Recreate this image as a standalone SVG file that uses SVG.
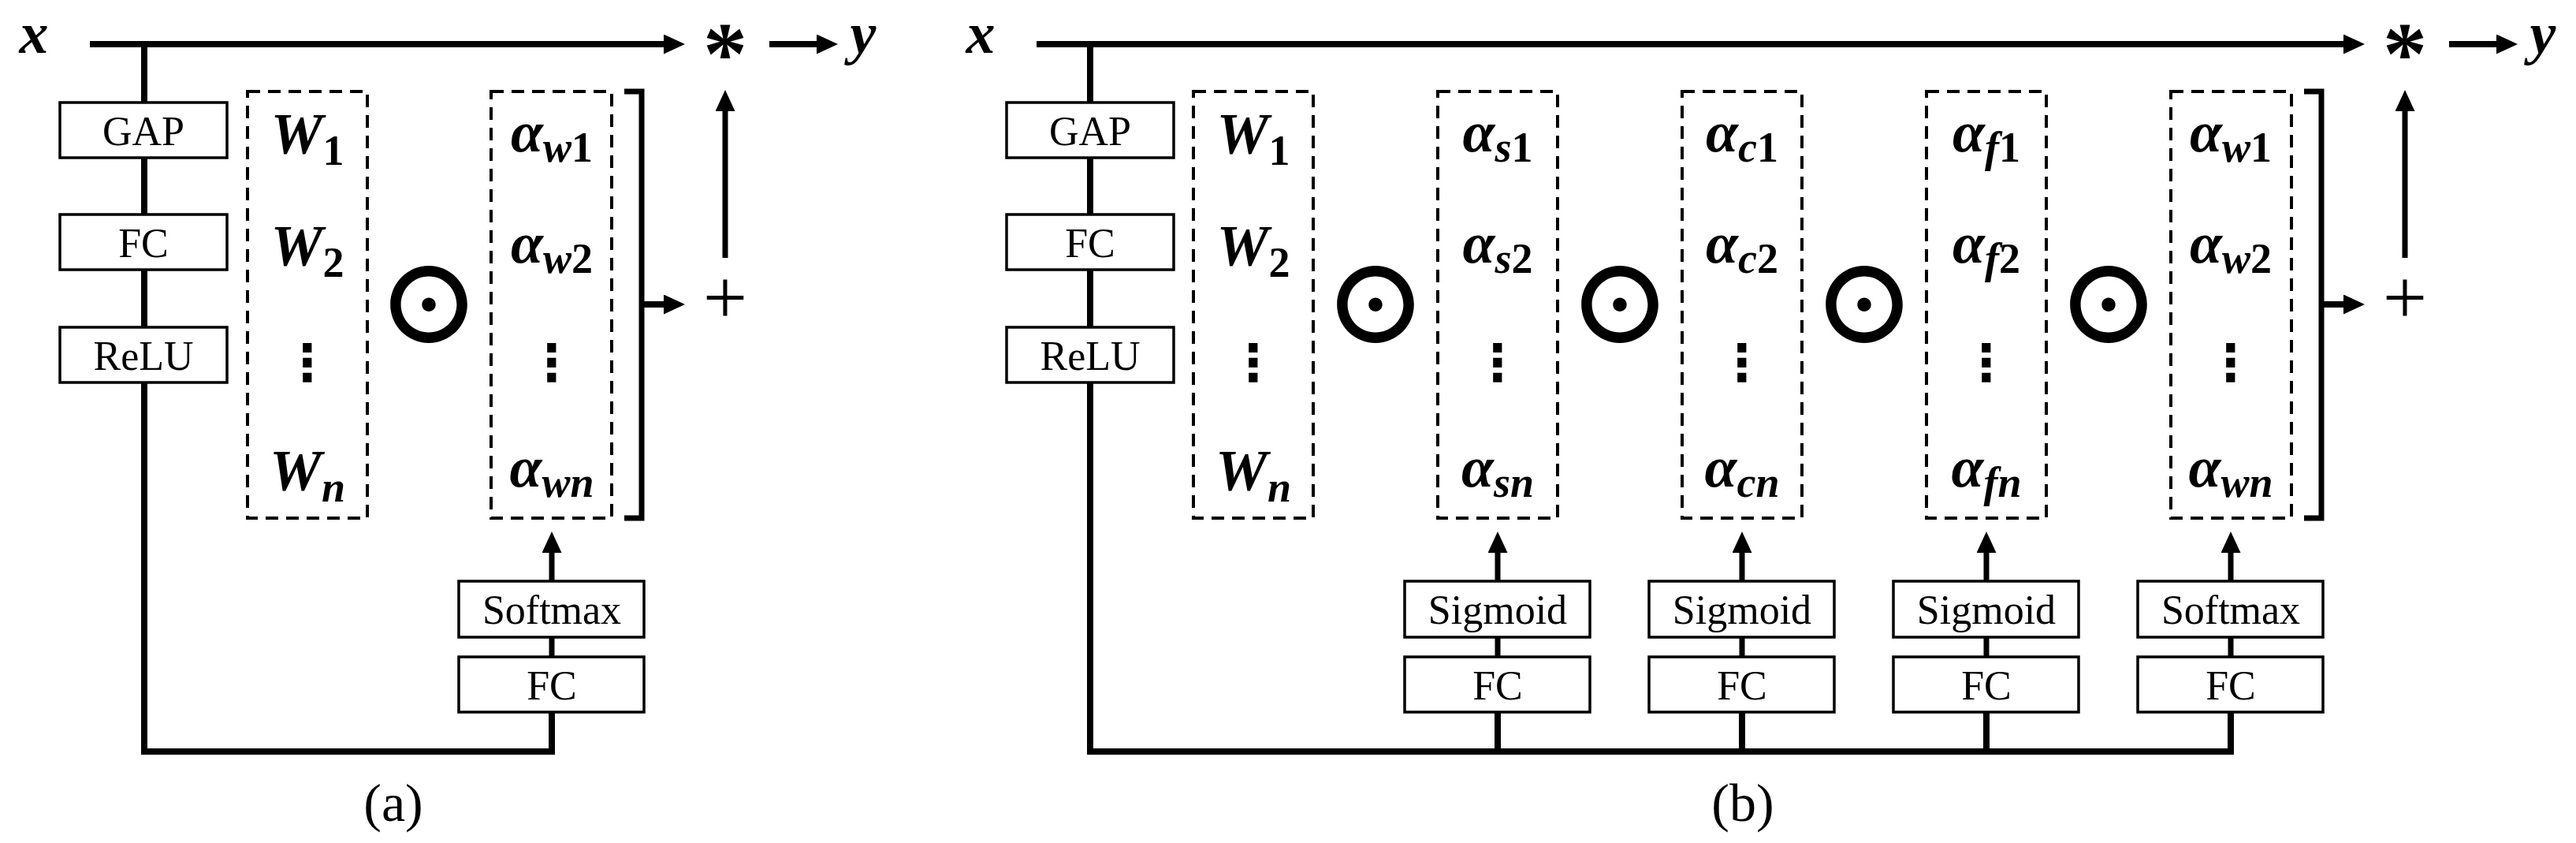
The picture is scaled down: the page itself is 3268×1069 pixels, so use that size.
<svg xmlns="http://www.w3.org/2000/svg" width="3268" height="1069" viewBox="0 0 3268 1069">
<defs>
<style>
.ln{fill:none;stroke:#000;stroke-width:8;stroke-linecap:butt;stroke-linejoin:miter}
.ln7{fill:none;stroke:#000;stroke-width:7}
.box rect{fill:#fff;stroke:#000;stroke-width:3.5}
.box text{font-family:"Liberation Serif","Times New Roman",serif;font-size:52px;text-anchor:middle;fill:#000}
.dash{fill:none;stroke:#000;stroke-width:4;stroke-dasharray:16 10}
.m{font-family:"Liberation Serif","Times New Roman",serif;font-size:74px;font-weight:bold;font-style:italic;text-anchor:middle;fill:#000}
.sub{font-size:54px}
.d{font-style:normal}
.op{font-family:"DejaVu Sans",sans-serif;text-anchor:middle;fill:#000}
.odot{font-family:"Noto Sans CJK JP","Noto Sans CJK SC",sans-serif;font-size:132px;font-weight:bold;text-anchor:middle;fill:#000}
.vd{font-size:64px;font-weight:bold}
.sym{font-family:"Liberation Serif","Times New Roman",serif;text-anchor:middle;fill:#000}
.ast{font-size:112px;font-weight:bold}
.pls{font-size:100px}
.cap{font-family:"Liberation Serif","Times New Roman",serif;font-size:68px;text-anchor:middle;fill:#000}
</style>
<marker id="ah" markerUnits="userSpaceOnUse" markerWidth="27" markerHeight="25" viewBox="0 0 27 25" refX="2" refY="12.5" orient="auto">
<path d="M0,0 L27,12.5 L0,25 Z" fill="#000"/>
</marker>
</defs>
<rect width="3268" height="1069" fill="#fff"/>

<g id="connectors">
<!-- (a) -->
<path class="ln" d="M114,56 H844" marker-end="url(#ah)"/>
<path class="ln" d="M976,56 H1038" marker-end="url(#ah)"/>
<path class="ln" d="M183,56 V953 H700 V903"/>
<path class="ln7" d="M700,833 V808"/>
<path class="ln7" d="M700,737 V699" marker-end="url(#ah)"/>
<path class="ln7" d="M792,116 H814 V657 H792"/>
<path class="ln" d="M814,386 H844" marker-end="url(#ah)"/>
<path class="ln7" d="M920,327 V139" marker-end="url(#ah)"/>
<!-- (b) -->
<path class="ln" d="M1315,56 H2975" marker-end="url(#ah)"/>
<path class="ln" d="M3107,56 H3169" marker-end="url(#ah)"/>
<path class="ln" d="M1383,56 V953 H2830 V903"/>
<path class="ln" d="M1900,953 V903 M2210,953 V903 M2520,953 V903"/>
<path class="ln7" d="M1900,833 V808 M2210,833 V808 M2520,833 V808 M2830,833 V808"/>
<path class="ln7" d="M1900,737 V699" marker-end="url(#ah)"/>
<path class="ln7" d="M2210,737 V699" marker-end="url(#ah)"/>
<path class="ln7" d="M2520,737 V699" marker-end="url(#ah)"/>
<path class="ln7" d="M2830,737 V699" marker-end="url(#ah)"/>
<path class="ln7" d="M2923,116 H2945 V657 H2923"/>
<path class="ln" d="M2945,386 H2975" marker-end="url(#ah)"/>
<path class="ln7" d="M3051,327 V139" marker-end="url(#ah)"/>
</g>

<!-- ===== (a) ===== -->
<g id="a-x"><text class="m" x="43" y="67">x</text></g>
<g id="a-y"><text class="m" x="1095" y="67">y</text></g>
<g id="a-mul"><text class="sym ast" x="920" y="106">*</text></g>
<g id="a-plus"><text class="sym pls" x="920" y="411">+</text></g>
<g id="a-gap" class="box"><rect x="76" y="130" width="212" height="70"/><text x="182" y="184">GAP</text></g>
<g id="a-fc1" class="box"><rect x="76" y="272" width="212" height="70"/><text x="182" y="326">FC</text></g>
<g id="a-relu" class="box"><rect x="76" y="415" width="212" height="70"/><text x="182" y="469">ReLU</text></g>
<g id="a-softmax" class="box"><rect x="582" y="737" width="235" height="71"/><text x="700" y="791">Softmax</text></g>
<g id="a-fc2" class="box"><rect x="582" y="833" width="235" height="70"/><text x="700" y="887">FC</text></g>
<g id="a-W">
<rect class="dash" x="314" y="116" width="152" height="541"/>
<text class="m" x="390" y="195">W<tspan class="sub d" dy="14">1</tspan></text>
<text class="m" x="390" y="337">W<tspan class="sub d" dy="14">2</tspan></text>
<text class="op vd" x="390" y="482">⋮</text>
<text class="m" x="390" y="622">W<tspan class="sub" dy="14">n</tspan></text>
</g>
<g id="a-odot"><text class="odot" x="544" y="436">⊙</text></g>
<g id="a-alpha-w">
<rect class="dash" x="623" y="116" width="153" height="541"/>
<text class="m" x="700" y="192">α<tspan class="sub" dy="13">w</tspan><tspan class="sub d">1</tspan></text>
<text class="m" x="700" y="333">α<tspan class="sub" dy="13">w</tspan><tspan class="sub d">2</tspan></text>
<text class="op vd" x="700" y="482">⋮</text>
<text class="m" x="700" y="617">α<tspan class="sub" dy="13">wn</tspan></text>
</g>
<g id="a-caption"><text class="cap" x="499" y="1041">(a)</text></g>

<!-- ===== (b) ===== -->
<g id="b-x"><text class="m" x="1244" y="67">x</text></g>
<g id="b-y"><text class="m" x="3226" y="67">y</text></g>
<g id="b-mul"><text class="sym ast" x="3051" y="106">*</text></g>
<g id="b-plus"><text class="sym pls" x="3051" y="411">+</text></g>
<g id="b-gap" class="box"><rect x="1277" y="130" width="212" height="70"/><text x="1383" y="184">GAP</text></g>
<g id="b-fc1" class="box"><rect x="1277" y="272" width="212" height="70"/><text x="1383" y="326">FC</text></g>
<g id="b-relu" class="box"><rect x="1277" y="415" width="212" height="70"/><text x="1383" y="469">ReLU</text></g>
<g id="b-W">
<rect class="dash" x="1514" y="116" width="152" height="541"/>
<text class="m" x="1590" y="195">W<tspan class="sub d" dy="14">1</tspan></text>
<text class="m" x="1590" y="337">W<tspan class="sub d" dy="14">2</tspan></text>
<text class="op vd" x="1590" y="482">⋮</text>
<text class="m" x="1590" y="622">W<tspan class="sub" dy="14">n</tspan></text>
</g>
<g id="b-odot1"><text class="odot" x="1745" y="436">⊙</text></g>
<g id="b-alpha-s">
<rect class="dash" x="1824" y="116" width="152" height="541"/>
<text class="m" x="1900" y="192">α<tspan class="sub" dy="13">s</tspan><tspan class="sub d">1</tspan></text>
<text class="m" x="1900" y="333">α<tspan class="sub" dy="13">s</tspan><tspan class="sub d">2</tspan></text>
<text class="op vd" x="1900" y="482">⋮</text>
<text class="m" x="1900" y="617">α<tspan class="sub" dy="13">sn</tspan></text>
</g>
<g id="b-odot2"><text class="odot" x="2055" y="436">⊙</text></g>
<g id="b-alpha-c">
<rect class="dash" x="2134" y="116" width="152" height="541"/>
<text class="m" x="2210" y="192">α<tspan class="sub" dy="13">c</tspan><tspan class="sub d">1</tspan></text>
<text class="m" x="2210" y="333">α<tspan class="sub" dy="13">c</tspan><tspan class="sub d">2</tspan></text>
<text class="op vd" x="2210" y="482">⋮</text>
<text class="m" x="2210" y="617">α<tspan class="sub" dy="13">cn</tspan></text>
</g>
<g id="b-odot3"><text class="odot" x="2365" y="436">⊙</text></g>
<g id="b-alpha-f">
<rect class="dash" x="2444" y="116" width="152" height="541"/>
<text class="m" x="2520" y="192">α<tspan class="sub" dy="13">f</tspan><tspan class="sub d">1</tspan></text>
<text class="m" x="2520" y="333">α<tspan class="sub" dy="13">f</tspan><tspan class="sub d">2</tspan></text>
<text class="op vd" x="2520" y="482">⋮</text>
<text class="m" x="2520" y="617">α<tspan class="sub" dy="13">fn</tspan></text>
</g>
<g id="b-odot4"><text class="odot" x="2675" y="436">⊙</text></g>
<g id="b-alpha-w">
<rect class="dash" x="2754" y="116" width="153" height="541"/>
<text class="m" x="2830" y="192">α<tspan class="sub" dy="13">w</tspan><tspan class="sub d">1</tspan></text>
<text class="m" x="2830" y="333">α<tspan class="sub" dy="13">w</tspan><tspan class="sub d">2</tspan></text>
<text class="op vd" x="2830" y="482">⋮</text>
<text class="m" x="2830" y="617">α<tspan class="sub" dy="13">wn</tspan></text>
</g>
<g id="b-sig1" class="box"><rect x="1782" y="737" width="235" height="71"/><text x="1900" y="791">Sigmoid</text></g>
<g id="b-fc-s" class="box"><rect x="1782" y="833" width="235" height="70"/><text x="1900" y="887">FC</text></g>
<g id="b-sig2" class="box"><rect x="2092" y="737" width="235" height="71"/><text x="2210" y="791">Sigmoid</text></g>
<g id="b-fc-c" class="box"><rect x="2092" y="833" width="235" height="70"/><text x="2210" y="887">FC</text></g>
<g id="b-sig3" class="box"><rect x="2402" y="737" width="235" height="71"/><text x="2520" y="791">Sigmoid</text></g>
<g id="b-fc-f" class="box"><rect x="2402" y="833" width="235" height="70"/><text x="2520" y="887">FC</text></g>
<g id="b-softmax" class="box"><rect x="2712" y="737" width="235" height="71"/><text x="2830" y="791">Softmax</text></g>
<g id="b-fc-w" class="box"><rect x="2712" y="833" width="235" height="70"/><text x="2830" y="887">FC</text></g>
<g id="b-caption"><text class="cap" x="2211" y="1041">(b)</text></g>
</svg>
